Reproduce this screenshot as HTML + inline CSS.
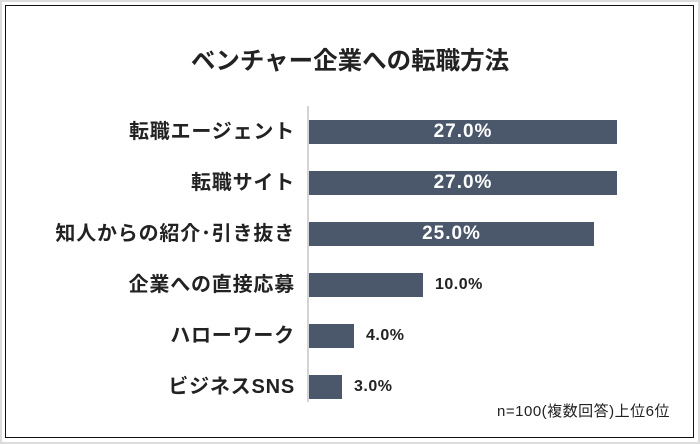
<!DOCTYPE html>
<html><head><meta charset="utf-8"><style>
body{margin:0;width:700px;height:444px;background:#fff;position:relative;overflow:hidden;font-family:"Liberation Sans","Noto Sans CJK JP",sans-serif}
.outer{position:absolute;left:0;top:0;width:696px;height:440px;border:2px solid #dcdcdc;}
.box{position:absolute;left:5px;top:5px;width:687px;height:431px;border:1.5px solid #111;}
.title{position:absolute;left:0;width:700px;top:42px;text-align:center;font-size:24.5px;font-weight:bold;color:#222}
.axis{position:absolute;left:307px;top:106px;width:2px;height:296px;background:#d4d4d4}
.bar{position:absolute;left:309px;height:24px;background:#4b586b;color:#fff;font-size:19px;text-align:center;line-height:24px;font-weight:bold;letter-spacing:1px}
.lab{position:absolute;right:405px;font-size:20px;font-weight:bold;color:#222;line-height:24px;white-space:nowrap;letter-spacing:0.8px}
.val{position:absolute;font-size:16px;font-weight:bold;color:#222;line-height:24px;letter-spacing:0.5px}
.note{position:absolute;right:30px;top:400px;font-size:15px;color:#222;letter-spacing:0.5px}
</style></head><body>
<div class="outer"></div><div class="box"></div>
<div class="title">ベンチャー企業への転職方法</div>
<div class="axis"></div>
<div class="lab" style="top:120px">転職エージェント</div>
<div class="bar" style="top:120px;width:308px">27.0%</div>
<div class="lab" style="top:171px">転職サイト</div>
<div class="bar" style="top:171px;width:308px">27.0%</div>
<div class="lab" style="top:222px">知人からの紹介･引き抜き</div>
<div class="bar" style="top:222px;width:285px">25.0%</div>
<div class="lab" style="top:273px">企業への直接応募</div>
<div class="bar" style="top:273px;width:114px"></div><div class="val" style="top:273px;left:435px">10.0%</div>
<div class="lab" style="top:324px">ハローワーク</div>
<div class="bar" style="top:324px;width:45px"></div><div class="val" style="top:324px;left:366px">4.0%</div>
<div class="lab" style="top:375px">ビジネスSNS</div>
<div class="bar" style="top:375px;width:33px"></div><div class="val" style="top:375px;left:354px">3.0%</div>
<div class="note">n=100(複数回答)上位6位</div>
</body></html>
